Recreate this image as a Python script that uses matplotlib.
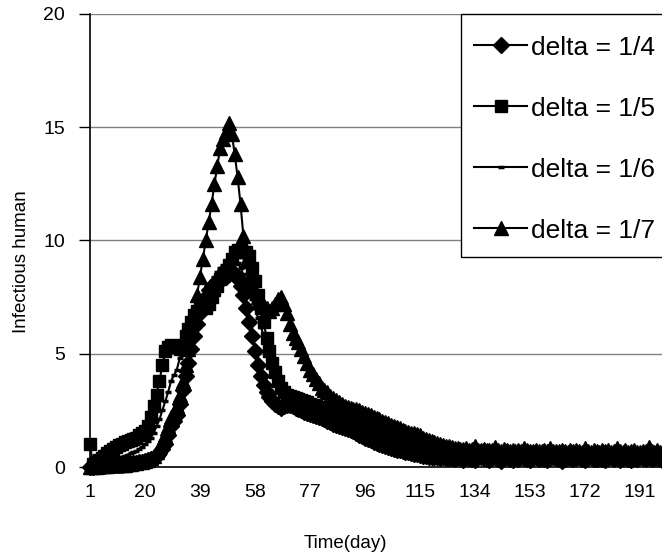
import matplotlib
matplotlib.use("Agg")
import matplotlib.pyplot as plt
from matplotlib.patches import Rectangle
import numpy as np

plt.rcParams["font.family"] = ["Liberation Sans", "DejaVu Sans"]

days = np.arange(1, 201)

# delta = 1/4 (diamonds)
d_head = [0, 0.02, 0.03, 0.04, 0.05, 0.06, 0.07, 0.08, 0.09, 0.1, 0.105,
          0.11, 0.12, 0.13, 0.15, 0.17, 0.19, 0.21, 0.24, 0.27, 0.3,
          0.35, 0.4, 0.5, 0.6, 0.8, 1.0, 1.4, 1.8, 2.05, 2.3, 2.8,
          3.4, 4.0, 4.6, 5.2, 5.8, 6.3, 6.8, 7.2, 7.5, 7.8,
          8.0, 8.1, 8.2, 8.3, 8.35, 8.4, 8.5, 8.6, 8.5, 8.3, 8.0,
          7.6, 7.0, 6.4, 5.8, 5.1, 4.5, 4.0, 3.6, 3.3, 3.1,
          2.9, 2.8, 2.7, 2.6, 2.7, 2.75, 2.72, 2.7, 2.6, 2.55, 2.5,
          2.45, 2.4, 2.35, 2.3, 2.25, 2.2, 2.15, 2.1, 2.05, 2.0,
          1.9, 1.85, 1.8, 1.75, 1.7, 1.68, 1.65, 1.58, 1.5, 1.43, 1.35,
          1.3, 1.24, 1.18, 1.12, 1.06, 1.0, 0.96, 0.92, 0.88, 0.85,
          0.81, 0.77, 0.73, 0.69, 0.67, 0.65, 0.62, 0.59, 0.56, 0.53, 0.5,
          0.48, 0.46, 0.44, 0.43, 0.42, 0.41, 0.42, 0.4, 0.41, 0.4]
d_tail = [0.36, 0.42, 0.38, 0.33, 0.43, 0.4, 0.37, 0.32, 0.42, 0.44,
          0.38, 0.35, 0.31, 0.41, 0.43, 0.37, 0.26, 0.4, 0.42, 0.36,
          0.33, 0.41, 0.37, 0.43, 0.39, 0.34, 0.31, 0.4, 0.42, 0.36,
          0.41, 0.37, 0.32, 0.4, 0.44, 0.4, 0.35, 0.28, 0.37, 0.42,
          0.39, 0.34, 0.41, 0.43, 0.36, 0.32, 0.4, 0.42, 0.37, 0.34,
          0.41, 0.36, 0.31, 0.4, 0.43, 0.37, 0.41, 0.33, 0.39, 0.42,
          0.36, 0.32, 0.41, 0.37, 0.44, 0.39, 0.34, 0.42, 0.36, 0.4,
          0.41, 0.37, 0.25, 0.43]

# delta = 1/5 (squares)
s_head = [1.0, 0.12, 0.2, 0.3, 0.4, 0.5, 0.6, 0.7, 0.8, 0.9, 0.95,
          1.0, 1.1, 1.15, 1.2, 1.25, 1.3, 1.4, 1.5, 1.6, 1.8,
          2.2, 2.7, 3.2, 3.8, 4.5, 5.1, 5.3, 5.4, 5.35, 5.3, 5.2,
          5.4, 5.8, 6.1, 6.4, 6.7, 6.9, 7.0, 7.1, 7.0, 7.2,
          7.5, 7.8, 8.0, 8.3, 8.45, 8.6, 8.9, 9.2, 9.5, 9.6, 9.6,
          9.5, 9.5, 9.3, 8.8, 8.2, 7.6, 7.0, 6.4, 5.7, 5.1,
          4.6, 4.2, 3.8, 3.5, 3.3, 3.2, 3.15, 3.1, 3.05, 3.0, 2.95,
          2.9, 2.85, 2.8, 2.75, 2.7, 2.65, 2.6, 2.55, 2.5, 2.45,
          2.4, 2.35, 2.3, 2.25, 2.2, 2.18, 2.15, 2.1, 2.05, 2.0, 1.95,
          1.9, 1.85, 1.8, 1.75, 1.7, 1.65, 1.6, 1.55, 1.5, 1.45,
          1.4, 1.35, 1.3, 1.25, 1.22, 1.2, 1.15, 1.1, 1.05, 1.0, 0.96,
          0.92, 0.88, 0.85, 0.82, 0.79, 0.76, 0.73, 0.7, 0.68, 0.66]
s_tail = [0.64, 0.62, 0.65, 0.6, 0.58, 0.63, 0.61, 0.57, 0.6, 0.62,
          0.59, 0.56, 0.61, 0.58, 0.55, 0.6, 0.57, 0.54, 0.59, 0.56,
          0.58, 0.55, 0.53, 0.57, 0.6, 0.56, 0.54, 0.58, 0.55, 0.52,
          0.56, 0.59, 0.55, 0.53, 0.57, 0.54, 0.56, 0.52, 0.55, 0.58,
          0.54, 0.52, 0.56, 0.53, 0.55, 0.57, 0.53, 0.51, 0.55, 0.54,
          0.56, 0.53, 0.5, 0.54, 0.57, 0.55, 0.52, 0.54, 0.56, 0.53,
          0.55, 0.52, 0.54, 0.57, 0.53, 0.51, 0.55, 0.53, 0.56, 0.54,
          0.52, 0.55, 0.53, 0.56]

# delta = 1/6 (dash)
h_head = [0, 0.05, 0.08, 0.1, 0.15, 0.2, 0.25, 0.3, 0.35, 0.4, 0.42,
          0.45, 0.5, 0.55, 0.6, 0.65, 0.7, 0.8, 0.9, 1.0, 1.15,
          1.3, 1.5, 1.8, 2.1, 2.5, 2.9, 3.3, 3.8, 4.05, 4.3, 4.8,
          5.2, 5.6, 6.0, 6.4, 6.8, 7.1, 7.4, 7.6, 7.8, 8.0,
          8.2, 8.4, 8.6, 8.8, 8.9, 9.0, 9.1, 9.2, 9.1, 9.0, 8.8,
          8.5, 8.2, 7.8, 7.4, 7.0, 6.6, 6.2, 5.8, 5.4, 5.0,
          4.6, 4.3, 4.0, 3.7, 3.5, 3.3, 3.25, 3.2, 3.1, 3.0, 2.9,
          2.8, 2.75, 2.7, 2.6, 2.55, 2.5, 2.45, 2.4, 2.35, 2.3,
          2.25, 2.2, 2.15, 2.1, 2.05, 2.03, 2.0, 1.95, 1.9, 1.85, 1.8,
          1.75, 1.7, 1.65, 1.6, 1.55, 1.5, 1.45, 1.4, 1.35, 1.3,
          1.25, 1.2, 1.15, 1.1, 1.08, 1.05, 1.0, 0.96, 0.92, 0.88, 0.84,
          0.8, 0.77, 0.74, 0.71, 0.68, 0.65, 0.63, 0.61, 0.59, 0.57]
h_tail = [0.55, 0.53, 0.56, 0.52, 0.5, 0.54, 0.51, 0.49, 0.53, 0.5,
          0.48, 0.52, 0.5, 0.47, 0.51, 0.49, 0.46, 0.5, 0.48, 0.52,
          0.49, 0.47, 0.45, 0.5, 0.48, 0.46, 0.49, 0.51, 0.47, 0.45,
          0.48, 0.5, 0.46, 0.44, 0.49, 0.47, 0.45, 0.48, 0.5, 0.46,
          0.44, 0.48, 0.46, 0.49, 0.45, 0.47, 0.5, 0.46, 0.44, 0.48,
          0.46, 0.49, 0.45, 0.43, 0.47, 0.5, 0.46, 0.44, 0.48, 0.45,
          0.47, 0.44, 0.49, 0.46, 0.43, 0.47, 0.45, 0.48, 0.44, 0.46,
          0.49, 0.45, 0.43, 0.47]

# delta = 1/7 (triangles)
t_head = [0, 0.01, 0.02, 0.03, 0.04, 0.05, 0.06, 0.07, 0.08, 0.09, 0.095,
          0.1, 0.11, 0.12, 0.14, 0.16, 0.18, 0.2, 0.23, 0.27, 0.32,
          0.4, 0.5, 0.65, 0.85, 1.1, 1.4, 1.8, 2.2, 2.45, 2.7, 3.2,
          3.8, 4.5, 5.2, 6.0, 6.8, 7.6, 8.4, 9.2, 10.0, 10.8,
          11.6, 12.5, 13.3, 14.1, 14.5, 14.8, 15.2, 14.7, 13.8, 12.8, 11.6,
          10.2, 9.1, 8.4, 8.0, 7.8, 7.5, 7.3, 7.1, 7.0, 6.9, 7.0, 7.2,
          7.4, 7.5, 7.2, 6.8, 6.3, 5.9, 5.7, 5.5, 5.2, 4.9, 4.6,
          4.3, 4.1, 3.9, 3.7, 3.5, 3.4, 3.3, 3.15, 3.05, 2.95,
          2.85, 2.8, 2.7, 2.65, 2.6, 2.58, 2.55, 2.5, 2.45, 2.4, 2.35,
          2.3, 2.2, 2.15, 2.1, 2.05, 2.0, 1.95, 1.85, 1.8, 1.75,
          1.7, 1.65, 1.6, 1.55, 1.52, 1.5, 1.45, 1.4, 1.3, 1.25, 1.2,
          1.15, 1.1, 1.05, 1.0, 0.97, 0.94, 0.91, 0.88, 0.85, 0.82]
t_tail = [0.8, 0.78, 0.84, 0.76, 0.79, 0.92, 0.77, 0.74, 0.8, 0.75,
          0.73, 0.77, 0.88, 0.74, 0.72, 0.78, 0.73, 0.7, 0.77, 0.72,
          0.74, 0.71, 0.86, 0.73, 0.7, 0.72, 0.77, 0.71, 0.69, 0.75,
          0.7, 0.84, 0.72, 0.69, 0.71, 0.76, 0.7, 0.68, 0.74, 0.7,
          0.75, 0.69, 0.67, 0.82, 0.71, 0.68, 0.74, 0.7, 0.67, 0.73,
          0.69, 0.74, 0.68, 0.7, 0.85, 0.69, 0.67, 0.73, 0.68, 0.7,
          0.74, 0.68, 0.66, 0.72, 0.69, 0.87, 0.7, 0.67, 0.73, 0.68,
          0.66, 0.72]

series = [
    ("delta = 1/4", d_head + d_tail, "D", 8.5),
    ("delta = 1/5", s_head + s_tail, "s", 8.5),
    ("delta = 1/6", h_head + h_tail, "_", 5),
    ("delta = 1/7", t_head + t_tail, "^", 10),
]

fig = plt.figure(figsize=(6.62, 5.59), dpi=100)
ax = fig.add_axes([90 / 662, 92 / 559, 576 / 662, 453 / 559])

for label, vals, mk, ms in series:
    ax.plot(days, vals, color="black", linewidth=1.5, marker=mk,
            markersize=ms, markerfacecolor="black", markeredgecolor="black",
            markeredgewidth=2.5 if mk == "_" else 1, label=label, clip_on=False)

ax.set_xlim(1, 200)
ax.set_ylim(0, 20)
ax.set_xticks(np.arange(1, 201, 19))
ax.set_yticks([0, 5, 10, 15, 20])
ax.yaxis.grid(True, color="#808080", linewidth=1)
ax.set_axisbelow(True)
for side in ["top", "right"]:
    ax.spines[side].set_visible(False)
ax.spines["left"].set_linewidth(1.2)
ax.spines["bottom"].set_linewidth(1.2)
ax.tick_params(axis="y", length=8, width=1, pad=10, labelsize=14)
ax.tick_params(axis="x", length=0, pad=12, labelsize=14)

fig.text(345 / 662, 1 - 543 / 559, "Time(day)", ha="center", va="center", fontsize=13.5)
fig.text(22 / 662, 1 - 262 / 559, "Infectious human", ha="center", va="center",
         rotation=90, fontsize=13.5)

# legend box sits inside the plot, running off the right edge
box = Rectangle((461 / 662, 1 - 257 / 559), 250 / 662, 243 / 559,
                transform=fig.transFigure, facecolor="white", edgecolor="black",
                linewidth=1, zorder=4.5, clip_on=False)
ax.add_artist(box)
leg = ax.legend(loc="upper left", bbox_to_anchor=(461 / 662, 1 - 22.5 / 559),
                bbox_transform=fig.transFigure, fontsize=19, frameon=False,
                handlelength=2.0, handletextpad=0.15, labelspacing=1.4,
                borderpad=0.5, borderaxespad=0)

plt.savefig("out.png", dpi=100)
